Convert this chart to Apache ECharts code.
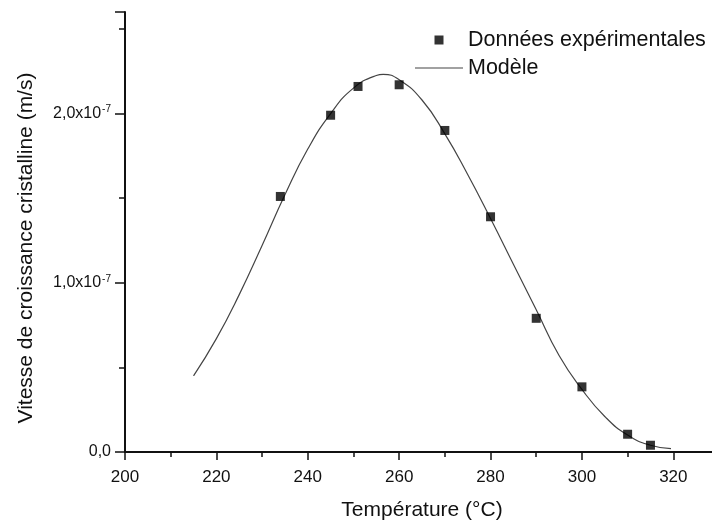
<!DOCTYPE html>
<html>
<head>
<meta charset="utf-8">
<script src="https://cdn.jsdelivr.net/npm/echarts@6/dist/echarts.min.js"></script>
<style>
html,body{margin:0;padding:0;background:#fff;}
#c{width:712px;height:523px;}
</style>
</head>
<body>
<div id="c"></div>
<script>
// Experimental data (temperature °C, growth rate in units of 1e-7 m/s)
var expTemps = [234, 245, 251, 260, 270, 280, 290, 300, 310, 315];
var expRates = [1.51, 1.99, 2.16, 2.17, 1.90, 1.39, 0.79, 0.385, 0.105, 0.04];
// Model curve
var modelTemps = [215, 220, 225, 230, 235, 240, 245, 250, 255, 256.5, 260, 265, 270, 275, 280, 285, 290, 295, 300, 305, 310, 315, 319.5];
var modelRates = [0.45, 0.67, 0.93, 1.22, 1.52, 1.79, 2.00, 2.15, 2.225, 2.232, 2.20, 2.08, 1.88, 1.64, 1.38, 1.11, 0.84, 0.57, 0.37, 0.21, 0.10, 0.04, 0.02];
var SCALE = 1e-7;
var xTickLabels = ['200', '220', '240', '260', '280', '300', '320'];
var yTickLabels = {0: '0,0', 1: '1,0x10{sup|-7}', 2: '2,0x10{sup|-7}'};

var expData = expTemps.map(function (t, i) { return [t, expRates[i] * SCALE]; });
var modelData = modelTemps.map(function (t, i) { return [t, modelRates[i] * SCALE]; });

var font = '"Liberation Sans", Arial, sans-serif';
var chart = echarts.init(document.getElementById('c'), null, {renderer: 'canvas'});
chart.setOption({
  animation: false,
  backgroundColor: '#fff',
  grid: {left: 125, top: 12, width: 594, height: 440, containLabel: false, outerBoundsMode: 'none'},
  legend: {
    orient: 'vertical',
    left: 410,
    top: 24,
    itemWidth: 48,
    itemHeight: 9,
    itemGap: 6,
    symbolKeepAspect: true,
    textStyle: {fontFamily: font, fontSize: 21.5, color: '#111'},
    data: [
      {name: 'Données expérimentales', icon: 'path://M0,0L10,0L10,10L0,10Z'},
      {name: 'Modèle', icon: 'path://M0,0L48,0L48,1.2L0,1.2Z'}
    ]
  },
  xAxis: [{
    type: 'value',
    min: 200,
    max: 330,
    interval: 20,
    position: 'bottom',
    name: 'Température (°C)',
    nameLocation: 'middle',
    nameGap: 48,
    nameTextStyle: {fontFamily: font, fontSize: 21, color: '#111'},
    axisLine: {show: true, onZero: false, lineStyle: {color: '#111', width: 2}},
    axisTick: {show: true, inside: false, length: 8, lineStyle: {color: '#111', width: 1.5}},
    minorTick: {show: true, splitNumber: 2, length: 5, lineStyle: {color: '#111', width: 1.5}},
    splitLine: {show: false},
    axisLabel: {
      fontFamily: font, fontSize: 17, color: '#111', margin: 17,
      showMaxLabel: false,
      formatter: function (v) {
        var idx = Math.round((v - 200) / 20);
        return xTickLabels[idx] !== undefined ? xTickLabels[idx] : '';
      }
    }
  }, {
    type: 'value',
    min: 200,
    max: 330,
    position: 'top',
    axisLine: {show: true, lineStyle: {color: '#111', width: 2}},
    axisTick: {show: false},
    axisLabel: {show: false},
    splitLine: {show: false}
  }],
  yAxis: {
    type: 'value',
    min: 0,
    max: 2.6e-7,
    interval: 1e-7,
    name: 'Vitesse de croissance cristalline (m/s)',
    nameLocation: 'middle',
    nameGap: 88,
    nameTextStyle: {fontFamily: font, fontSize: 21, color: '#111', padding: [0, 32, 0, 0]},
    axisLine: {show: true, lineStyle: {color: '#111', width: 2}},
    axisTick: {show: true, inside: false, length: 10, lineStyle: {color: '#111', width: 1.5}},
    minorTick: {show: true, splitNumber: 2, length: 6, lineStyle: {color: '#111', width: 1.5}},
    splitLine: {show: false},
    axisLabel: {
      fontFamily: font, fontSize: 16, color: '#111', margin: 14,
      showMaxLabel: false,
      formatter: function (v) {
        var idx = Math.round(v / 1e-7);
        return yTickLabels[idx] !== undefined ? yTickLabels[idx] : '';
      },
      rich: {
        sup: {fontFamily: font, fontSize: 10, color: '#111', verticalAlign: 'top', padding: [0, 0, 8, 1]}
      }
    }
  },
  series: [{
    name: 'Modèle',
    type: 'line',
    data: modelData,
    smooth: true,
    showSymbol: false,
    symbol: 'none',
    lineStyle: {color: '#444', width: 1.2},
    itemStyle: {color: '#444'},
    z: 2
  }, {
    name: 'Données expérimentales',
    type: 'scatter',
    data: expData,
    symbol: 'rect',
    symbolSize: 9,
    itemStyle: {color: '#000'},
    z: 3
  }]
});
</script>
</body>
</html>
